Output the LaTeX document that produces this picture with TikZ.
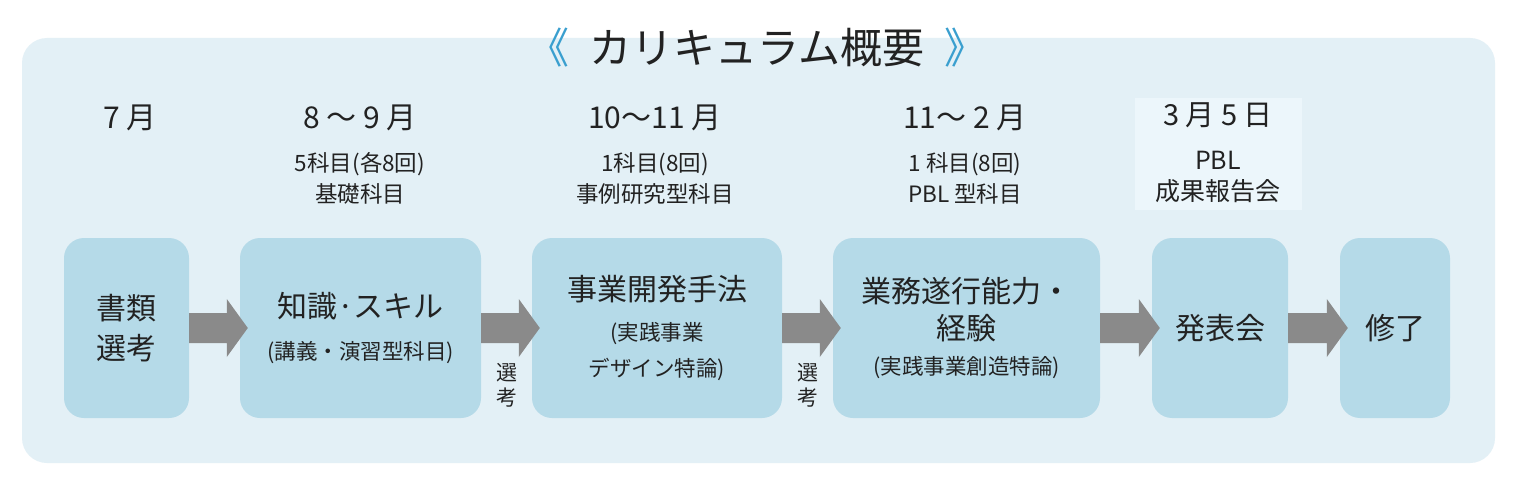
\documentclass[tikz,border=0pt]{standalone}
\usepackage{fontspec}
\setmainfont{Noto Sans CJK JP}
\usetikzlibrary{calc}
\definecolor{panelbg}{HTML}{E3F0F6}
\definecolor{boxbg}{HTML}{B5DAE8}
\definecolor{datebg}{HTML}{ECF6FB}
\definecolor{arrowgray}{HTML}{8A8A8A}
\definecolor{bracketblue}{HTML}{3A9FCF}
\definecolor{ink}{HTML}{222222}
\tikzset{
  stagebox/.style={fill=boxbg, rounded corners=20pt, minimum height=180pt, inner sep=0pt, align=center, text=ink, font=\fontsize{30}{40}\selectfont},
  monthtext/.style={text=ink, font=\fontsize{30}{34}\selectfont, inner sep=0pt},
  subtext/.style={text=ink, font=\fontsize{22.5}{31}\selectfont, inner sep=0pt, align=center},
  sidetext/.style={text=ink, font=\fontsize{21}{25}\selectfont, inner sep=0pt, align=center},
}
\newcommand{\subsz}{\fontsize{21.5}{26}\selectfont}
\begin{document}
\begin{tikzpicture}[x=1pt,y=-1pt]
\useasboundingbox (0,0) rectangle (1523,484);
\fill[white] (0,0) rectangle (1523,484);
\fill[panelbg, rounded corners=25pt] (22,38) rectangle (1495,463);
\fill[datebg] (1135,98) rectangle (1302,210);

% title
\node[text=ink, font=\fontsize{42}{50}\selectfont, inner sep=0pt] (title) at (757,48)
  {\textcolor{bracketblue}{《}\hspace{20pt}カリキュラム概要\hspace{20pt}\textcolor{bracketblue}{》}};

% month headers
\node[monthtext] (m1) at (130,118) {7 月};
\node[monthtext] (m2) at (360,118) {8 ～ 9 月};
\node[monthtext] (m3) at (655,118) {10～11 月};
\node[monthtext] (m4) at (965,118) {11～ 2 月};
\node[monthtext, font=\fontsize{29}{34}\selectfont] (m5) at (1218,115) {3 月 5 日};

% sub headers
\node[subtext] (s2) at (360,178) {5科目(各8回)\\基礎科目};
\node[subtext] (s3) at (655,178) {1科目(8回)\\事例研究型科目};
\node[subtext] (s4) at (965,178) {1 科目(8回)\\PBL 型科目};
\node[subtext, font=\fontsize{25}{31}\selectfont] (s5) at (1218,177) {PBL\\成果報告会};

% boxes
\node[stagebox, minimum width=125pt] (b1) at (126.5,328) {書類\\選考};
\node[stagebox, minimum width=241pt] (b2) at (360.5,328)
  {知識·スキル\\[2pt]{\subsz(講義・演習型科目)}};
\node[stagebox, minimum width=250pt] (b3) at (657,328)
  {事業開発手法\\[0pt]{\subsz(実践事業}\\[-4pt]{\subsz デザイン特論)}};
\node[stagebox, minimum width=267pt, font=\fontsize{30}{37}\selectfont] (b4) at (966.5,328)
  {業務遂行能力・\\経験\\[-2pt]{\subsz(実践事業創造特論)}};
\node[stagebox, minimum width=136pt] (b5) at (1220,328) {発表会};
\node[stagebox, minimum width=110pt] (b6) at (1395,328) {修了};

% arrows
\foreach \a/\b in {b1/b2, b2/b3, b3/b4, b4/b5, b5/b6}{
  \fill[arrowgray] ($(\a.east)+(0,-15)$) -- ($(\b.west)+(-13,-15)$) -- ($(\b.west)+(-13,-29)$)
    -- ($(\b.west)+(8,0)$) -- ($(\b.west)+(-13,29)$) -- ($(\b.west)+(-13,15)$)
    -- ($(\a.east)+(0,15)$) -- cycle;
}

% selection labels
\node[sidetext] (sel1) at (507,385) {選\\考};
\node[sidetext] (sel2) at (808,385) {選\\考};
\end{tikzpicture}
\end{document}
